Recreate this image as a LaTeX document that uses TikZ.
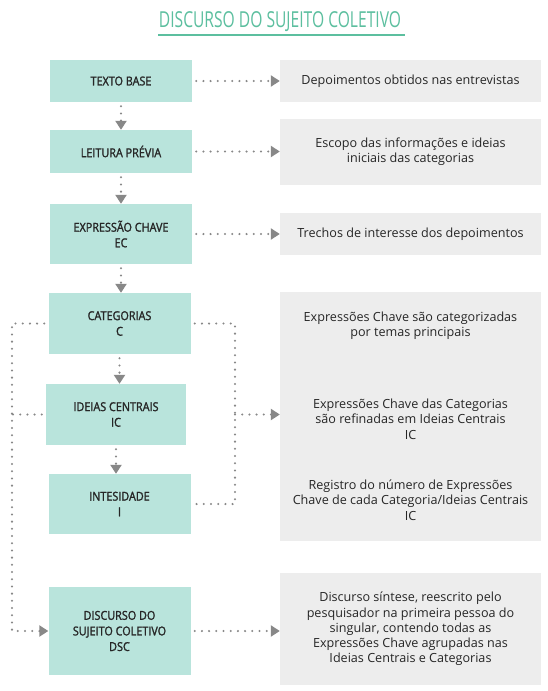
\documentclass[tikz,border=0pt]{standalone}
\usepackage{fontspec}
\setmainfont{Open Sans}
\newfontfamily\titulofont[FakeStretch=0.71]{Open Sans}
\newfontfamily\etapafont[FakeStretch=0.88,FakeBold=1.6]{Open Sans}
\usetikzlibrary{arrows.meta}

\begin{document}
\begin{tikzpicture}[x=1pt,y=-1pt,
  etapa/.style={fill=verdeclaro,minimum width=142pt,align=center,inner sep=0pt,
    font=\etapafont\fontsize{12.3}{15.6}\selectfont,text=texto},
  nota/.style={fill=cinzaclaro,minimum width=261pt,align=center,inner sep=0pt,
    font=\fontsize{12.6}{15.3}\selectfont,text=texto},
  linha/.style={draw=pontos,line width=2.3pt,dash pattern=on 0pt off 7.2pt,line cap=round},
  seta/.style={linha,-{Triangle[length=9pt,width=11pt,fill=pontos]}}]
\definecolor{verdeclaro}{HTML}{B9E4DC}
\definecolor{cinzaclaro}{HTML}{EDEDED}
\definecolor{pontos}{HTML}{888888}
\definecolor{titulo}{HTML}{5CBF9F}
\definecolor{texto}{HTML}{262626}
\useasboundingbox (0,0) rectangle (548,691);
\fill[white] (0,0) rectangle (548,691);

% titulo
\node[font=\titulofont\fontsize{22}{22}\selectfont,text=titulo,anchor=base,inner sep=0pt] (titulo) at (280,27) {DISCURSO DO SUJEITO COLETIVO};
\draw[titulo,line width=1.5pt] (158,35) -- (405,35);

% etapas
\node[etapa,minimum height=42pt] (base) at (121,81) {TEXTO BASE};
\node[etapa,minimum height=43pt] (leitura) at (121,151.5) {LEITURA PRÉVIA};
\node[etapa,minimum height=60pt] (expressao) at (121,234) {EXPRESSÃO CHAVE\\EC};
\node[etapa,minimum height=61pt] (categorias) at (119.5,323.5) {CATEGORIAS\\C};
\node[etapa,minimum height=61pt,minimum width=140pt] (ideias) at (116,414.5) {IDEIAS CENTRAIS\\IC};
\node[etapa,minimum height=60pt] (intensidade) at (119.5,504) {INTESIDADE\\I};
\node[etapa,minimum height=88pt] (dsc) at (119.5,631) {DISCURSO DO\\SUJEITO COLETIVO\\DSC};

% notas
\node[nota,minimum height=42pt] (nBase) at (410.5,81) {Depoimentos obtidos nas entrevistas};
\node[nota,minimum height=66pt] (nLeitura) at (410.5,152) {Escopo das informações e ideias\\iniciais das categorias};
\node[nota,minimum height=42pt] (nExpressao) at (410.5,234) {Trechos de interesse dos depoimentos};
\node[nota,minimum height=249pt] (nCat) at (410.5,416.5) {};
\node[nota,fill=none] (tCat) at (410.5,326) {Expressões Chave são categorizadas\\por temas principais};
\node[nota,fill=none] (tIdeias) at (410.5,419) {Expressões Chave das Categorias\\são refinadas em Ideias Centrais\\IC};
\node[nota,fill=none] (tInt) at (410.5,500) {Registro do número de Expressões\\Chave de cada Categoria/Ideias Centrais\\IC};
\node[nota,minimum height=112pt] (nDsc) at (410.5,629) {Discurso síntese, reescrito pelo\\pesquisador na primeira pessoa do\\singular, contendo todas as\\Expressões Chave agrupadas nas\\Ideias Centrais e Categorias};

\coordinate (esq) at (12,0);
\coordinate (dir) at (235,0);

% setas
\foreach \a/\b in {base/leitura,leitura/expressao,expressao/categorias,categorias/ideias,ideias/intensidade}
  \draw[seta,shorten <=4pt] (\a.south) -- (\a.south |- \b.north);
\foreach \a/\b in {base/nBase,leitura/nLeitura,expressao/nExpressao}
  \draw[seta,shorten <=4pt] (\a.east) -- (\a.east -| \b.west);
\draw[seta,shorten <=4pt] (dsc.east) -- (dsc.east -| nDsc.west);
\draw[seta,shorten <=4pt] (categorias.west) -- (categorias.west -| esq) |- (dsc.west);
\draw[linha,shorten <=4pt] (ideias.west) -- (ideias.west -| esq);
\draw[linha,shorten <=4pt] (categorias.east) -- (categorias.east -| dir) |- (intensidade.east);
\coordinate (juncao) at (ideias.west -| dir);
\draw[seta] (juncao) -- (juncao -| nCat.west);
\end{tikzpicture}
\end{document}
